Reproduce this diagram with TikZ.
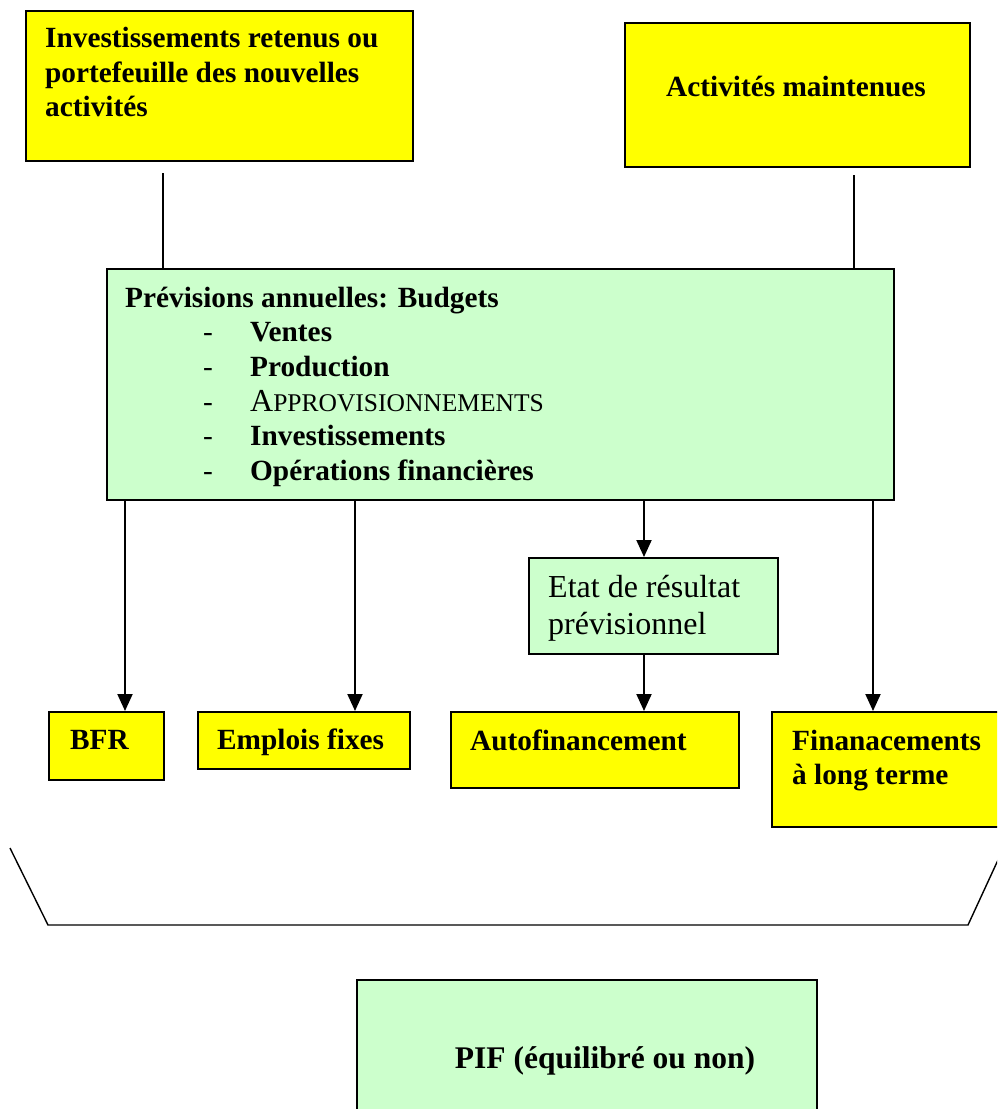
\documentclass[tikz,border=0pt]{standalone}
\usepackage{fontspec}
\setmainfont{Liberation Serif}
\usetikzlibrary{arrows.meta}
\definecolor{boxyellow}{HTML}{FFFF00}
\definecolor{boxgreen}{HTML}{CCFFCC}
\tikzset{
  ybox/.style={draw=black, line width=1.8pt, fill=boxyellow, anchor=north west, inner sep=0pt},
  gbox/.style={draw=black, line width=1.8pt, fill=boxgreen, anchor=north west, inner sep=0pt},
  txt/.style={anchor=base west, inner sep=0pt, font=\bfseries\fontsize{29.3}{34.5}\selectfont},
  itm/.style={anchor=base west, inner sep=0pt, font=\bfseries\fontsize{29.3}{34.5}\selectfont},
  dsh/.style={anchor=base west, inner sep=0pt, font=\fontsize{29.3}{34.5}\selectfont},
  plain/.style={anchor=base west, inner sep=0pt, font=\fontsize{32}{37}\selectfont},
  conn/.style={line width=1.8pt},
  arr/.style={line width=2pt, -{Triangle[length=17pt,width=15pt]}},
}
\begin{document}
\begin{tikzpicture}[x=1pt,y=-1pt]
\useasboundingbox (0,0) rectangle (997,1109);
\begin{scope}
\clip (0,0) rectangle (997,1109);
% top boxes
\node[ybox, minimum width=387, minimum height=150] (inv) at (25,10) {};
\node[txt] (invt1) at (45,47) {Investissements retenus ou};
\node[txt] (invt2) at (45,82) {portefeuille des nouvelles};
\node[txt] (invt3) at (45,116) {activités};
\node[ybox, minimum width=345, minimum height=144] (act) at (624,22) {};
\node[txt, anchor=base] (actt) at (796,96) {Activités maintenues};
% big green box
\node[gbox, minimum width=787, minimum height=231] (prev) at (106,268) {};
\node[txt] (prevt) at (125,307) {Prévisions annuelles: Budgets};
\node[dsh] (d1) at (203,341) {-};
\node[itm] (i1) at (250,341) {Ventes};
\node[dsh] (d2) at (203,376) {-};
\node[itm] (i2) at (250,376) {Production};
\node[dsh] (d3) at (203,411) {-};
\node[anchor=base west, inner sep=0pt] (i3) at (250,411) {\fontsize{32}{34.5}\selectfont A\fontsize{25.5}{34.5}\selectfont PPROVISIONNEMENTS};
\node[dsh] (d4) at (203,445) {-};
\node[itm] (i4) at (250,445) {Investissements};
\node[dsh] (d5) at (203,480) {-};
\node[itm] (i5) at (250,480) {Opérations financières};
% connectors from top boxes
\coordinate (c1) at (163,173);
\coordinate (c2) at (854,175);
\draw[conn] (c1) -- (c1 |- prev.north);
\draw[conn] (c2) -- (c2 |- prev.north);
% etat box
\node[gbox, minimum width=249, minimum height=96] (etat) at (528,557) {};
\node[plain] (etat1) at (548,597) {Etat de résultat};
\node[plain] (etat2) at (548,634) {prévisionnel};
% bottom yellow boxes
\node[ybox, minimum width=115, minimum height=68] (bfr) at (48,711) {};
\node[txt] (bfrt) at (70,749) {BFR};
\node[ybox, minimum width=212, minimum height=57] (emp) at (197,711) {};
\node[txt] (empt) at (217,749) {Emplois fixes};
\node[ybox, minimum width=288, minimum height=76] (auto) at (450,711) {};
\node[txt] (autot) at (470,750) {Autofinancement};
\node[ybox, minimum width=240, minimum height=115] (fin) at (771,711) {};
\node[txt] (fint1) at (792,750) {Finanacements};
\node[txt] (fint2) at (792,784) {à long terme};
% arrows
\coordinate (a1) at (125,0);
\coordinate (a2) at (355,0);
\coordinate (a3) at (644,0);
\coordinate (a4) at (873,0);
\draw[arr] (prev.south -| a1) -- (bfr.north -| a1);
\draw[arr] (prev.south -| a2) -- (emp.north -| a2);
\draw[arr] (prev.south -| a3) -- (etat.north -| a3);
\draw[arr] (etat.south -| a3) -- (auto.north -| a3);
\draw[arr] (prev.south -| a4) -- (fin.north -| a4);
% bracket
\coordinate (b1) at (10,848);
\coordinate (b2) at (48,925);
\coordinate (b3) at (968,925);
\coordinate (b4) at (998,860);
\draw[line width=1.4pt] (b1) -- (b2) -- (b3) -- (b4);
% PIF
\node[gbox, minimum width=460, minimum height=150] (pif) at (356,979) {};
\node[anchor=base, inner sep=0pt, font=\bfseries\fontsize{31.5}{36}\selectfont] (pift) at (605,1068) {PIF (équilibré ou non)};
\end{scope}
\end{tikzpicture}
\end{document}
